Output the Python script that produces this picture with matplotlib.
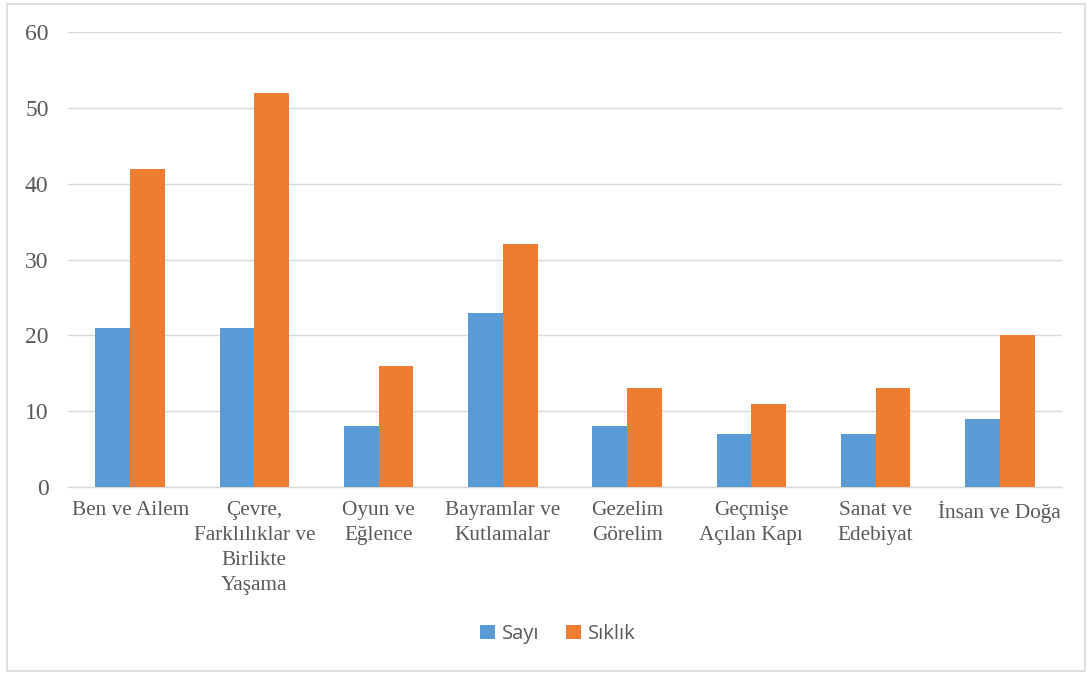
import numpy as np
import matplotlib.pyplot as plt
from matplotlib.patches import Rectangle

categories = ['Ben ve Ailem', 'Çevre,\nFarklılıklar ve\nBirlikte\nYaşama',
              'Oyun ve\nEğlence', 'Bayramlar ve\nKutlamalar', 'Gezelim\nGörelim',
              'Geçmişe\nAçılan Kapı', 'Sanat ve\nEdebiyat', 'İnsan ve Doğa']
sayi = [21, 21, 8, 23, 8, 7, 7, 9]
siklik = [42, 52, 16, 32, 13, 11, 13, 20]
yticks = [0, 10, 20, 30, 40, 50, 60]

BLUE = '#5B9BD5'
ORANGE = '#ED7D31'
GRAY = '#595959'
GRID = '#D9D9D9'

fig = plt.figure(figsize=(10.92, 6.75), dpi=100)
ax = fig.add_axes([0.0623, 0.2785, 0.9102, 0.6741])

x = np.arange(len(categories))
w = 0.28
ax.bar(x - w / 2, sayi, w, color=BLUE, label='Sayı', zorder=3)
ax.bar(x + w / 2, siklik, w, color=ORANGE, label='Sıklık', zorder=3)

ax.set_xlim(-0.5, len(categories) - 0.5)
ax.set_ylim(0, 60)
ax.set_yticks(yticks)
ax.set_yticklabels([str(v) for v in yticks], family='Liberation Serif',
                   fontsize=17, color=GRAY)
ax.set_xticks(x)
ax.set_xticklabels(categories, family='Liberation Serif', fontsize=15.3,
                   color=GRAY, linespacing=1.42)
ax.tick_params(axis='both', length=0)
ax.tick_params(axis='y', pad=14)
ax.tick_params(axis='x', pad=10)

ax.grid(axis='y', color=GRID, linewidth=1, zorder=0)
for s in ['top', 'right', 'left']:
    ax.spines[s].set_visible(False)
ax.spines['bottom'].set_color(GRID)
ax.spines['bottom'].set_linewidth(1)

leg = fig.legend(loc='center', bbox_to_anchor=(0.511, 0.0607), ncol=2, frameon=False,
                 prop={'family': 'Open Sans', 'size': 14.5}, handlelength=0.75,
                 handleheight=0.75, handletextpad=0.35, columnspacing=1.3)
for t in leg.get_texts():
    t.set_color(GRAY)

# light border around the chart area
fig.patches.append(Rectangle((0.006, 0.006), 0.988, 0.988, transform=fig.transFigure,
                             fill=False, edgecolor='#D9D9D9', linewidth=1.2))

plt.savefig('out.png', dpi=100)
